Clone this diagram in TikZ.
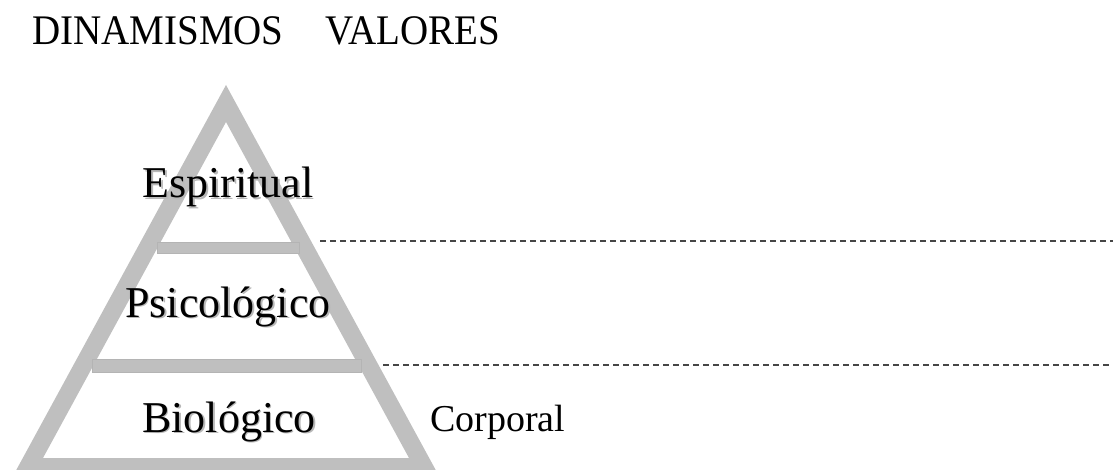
\documentclass[tikz,border=0pt]{standalone}
\usepackage{fontspec}
\setmainfont{Liberation Serif}
\definecolor{pyr}{RGB}{191,191,191}
\definecolor{barline}{RGB}{180,180,180}
\definecolor{dashc}{RGB}{70,70,70}
\begin{document}
\begin{tikzpicture}[x=1pt,y=-1pt,
  title/.style={font=\fontsize{39}{39}\selectfont, inner sep=0, anchor=base west},
  lvl/.style={font=\fontsize{44}{44}\selectfont, inner sep=0, anchor=base},
  lvlshadow/.style={lvl, text=black!28},
  side/.style={font=\fontsize{38}{38}\selectfont, inner sep=0, anchor=base west},
  bar/.style={fill=pyr, draw=barline, line width=0.8pt},
  guide/.style={draw=dashc, dash pattern=on 6pt off 4pt, line width=1.3pt}]
\useasboundingbox (0,0) rectangle (1113,470);
\clip (0,0) rectangle (1113,470);
% pyramid outline
\fill[pyr, even odd rule] (226,85) -- (439,476) -- (13,476) -- cycle
  (226,122) -- (409,458) -- (43,458) -- cycle;
% separating bars
\draw[bar] (157,242) rectangle (299,253);
\draw[bar] (92,359) rectangle (361,372);
% titles
\node[title] (din) at (32,44.5) {\scalebox{1}[1.08]{DINAMISMOS}};
\node[title] (val) at (325,44.5) {\scalebox{1}[1.08]{VALORES}};
% level labels with shadow
\node[lvlshadow] (esps) at (229.6,199.6) {Espiritual};
\node[lvl] (esp) at (228,198) {Espiritual};
\node[lvlshadow] (psis) at (229.6,318.6) {Psicológico};
\node[lvl] (psi) at (228,317) {Psicológico};
\node[lvlshadow] (bios) at (230.6,433.6) {Biológico};
\node[lvl] (bio) at (229,432) {Biológico};
\node[side] (cor) at (430,431) {Corporal};
% dashed guides
\coordinate (d1s) at (320,241);
\coordinate (d1e) at (1113,241);
\coordinate (d2s) at (383,365);
\coordinate (d2e) at (1113,365);
\draw[guide] (d1s) -- (d1e);
\draw[guide] (d2s) -- (d2e);
\end{tikzpicture}
\end{document}
